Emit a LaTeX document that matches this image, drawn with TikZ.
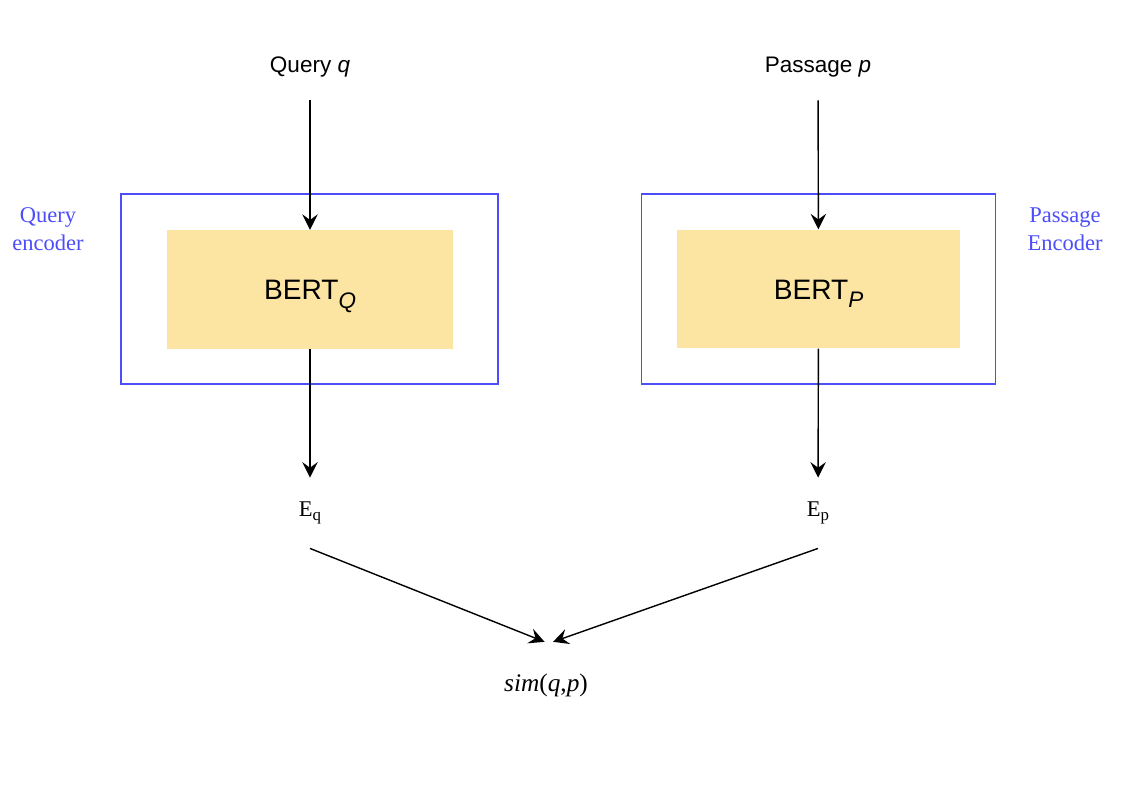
\documentclass[tikz,border=0pt]{standalone}
\usepackage{fontspec}
\setmainfont{Liberation Serif}
\newfontfamily\helv{Liberation Sans}
\usetikzlibrary{positioning,arrows.meta}
\definecolor{encblue}{RGB}{77,77,250}
\definecolor{bertyellow}{RGB}{252,229,163}
\newcommand{\lowsub}[3]{\raisebox{-#1}{\fontsize{#2}{0}\selectfont #3}}
\tikzset{%
  arr/.style={-{Stealth[length=11pt,width=11pt,inset=4pt]},line width=1pt},
  encoder/.style={draw=encblue,line width=1pt,minimum height=135pt,inner sep=0pt},
  bert/.style={fill=bertyellow,minimum height=84.5pt,inner sep=0pt,
    text height=14.5pt,text depth=0pt,font=\helv\fontsize{20}{24}\selectfont},
  input/.style={minimum height=47pt,inner sep=0pt,font=\helv\fontsize{16}{19}\selectfont},
  emb/.style={minimum height=50pt,inner sep=0pt,font=\fontsize{16}{19}\selectfont},
  enclabel/.style={align=center,text=encblue,font=\fontsize{16}{20}\selectfont}
}

\begin{document}
\begin{tikzpicture}[x=0.025cm,y=-0.025cm]
  \useasboundingbox (0,0) rectangle (1128,806);

  % query side
  \node[input] (query) at (310,67) {Query \textit{q}};
  \node[encoder,minimum width=268pt] (qenc) at (309.5,289) {};
  \node[bert,minimum width=203pt] (bertq) at (310,289.5) {BERT\lowsub{6pt}{16}{\itshape Q}};
  \node[emb] (eq) at (310,513) {E\lowsub{3pt}{12}{q}};
  \node[enclabel] at (48,229) {Query\\encoder};

  % passage side
  \node[input] (passage) at (818,67) {Passage \textit{p}};
  \node[encoder,minimum width=252pt] (penc) at (818.5,289) {};
  \node[bert,minimum width=201pt] (bertp) at (818.5,289) {BERT\lowsub{6pt}{16}{\itshape P}};
  \node[emb] (ep) at (818,513) {E\lowsub{3pt}{12}{p}};
  \node[enclabel] at (1065,229) {Passage\\Encoder};

  % score
  \node[minimum height=61pt,inner sep=0pt,font=\fontsize{18}{22}\selectfont]
    (sim) at (546,685) {\textit{sim}(\textit{q},\textit{p})};

  \draw[arr] (query) -- (bertq);
  \draw[arr] (bertq) -- (eq);
  \draw[arr] (passage) -- (bertp);
  \draw[arr] (bertp) -- (ep);
  \draw[arr] (eq.south) -- ([xshift=-1pt]sim.north);
  \draw[arr] (ep.south) -- ([xshift=5pt]sim.north);
\end{tikzpicture}
\end{document}
